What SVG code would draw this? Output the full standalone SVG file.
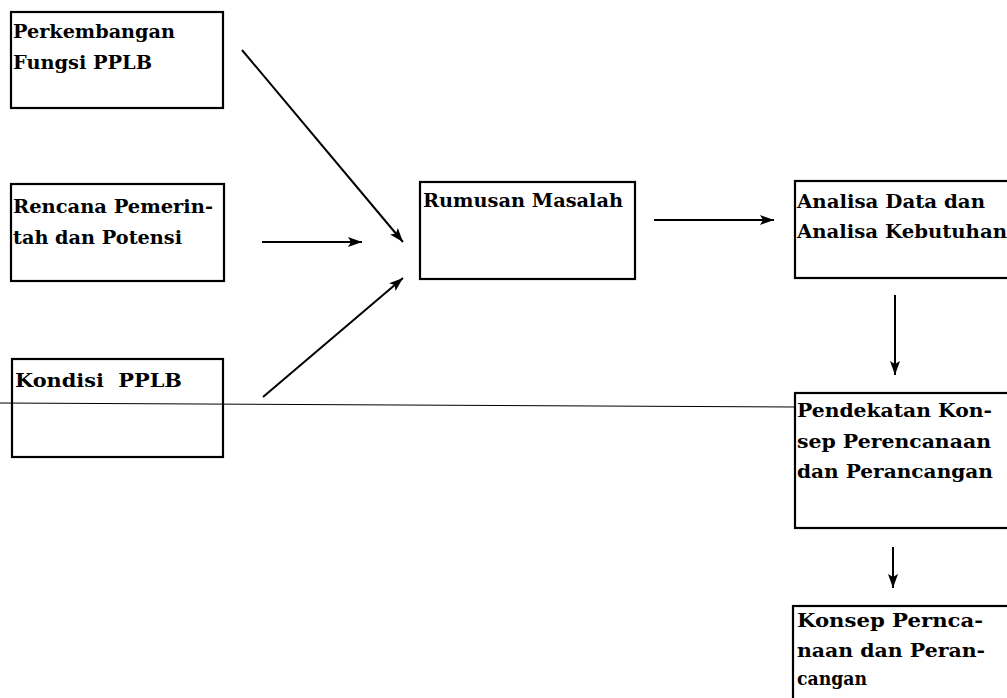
<svg xmlns="http://www.w3.org/2000/svg" width="1007" height="698" viewBox="0 0 1007 698">
<style>
.box{fill:none;stroke:#000;stroke-width:2.2}
.t{font-family:"DejaVu Serif","Liberation Serif",serif;font-size:18px;font-weight:bold;fill:#000}
.c{stroke:#000;stroke-width:2;fill:none}
</style>
<defs>
<marker id="ah" viewBox="0 0 14 10" refX="14" refY="5" markerWidth="14" markerHeight="10" markerUnits="userSpaceOnUse" orient="auto">
<path d="M0,0 L14,5 L0,10 L3,5 Z" fill="#000"/>
</marker>
</defs>
<rect width="1007" height="698" fill="#fff"/>
<g id="rule">
<line x1="0" y1="403" x2="795" y2="407" stroke="#000" stroke-width="1"/>
</g>
<g id="n1">
<rect class="box" x="11" y="12" width="212" height="96"/>
<text class="t" x="13" y="38" textLength="162" lengthAdjust="spacingAndGlyphs">Perkembangan</text>
<text class="t" x="13" y="69" textLength="139" lengthAdjust="spacingAndGlyphs">Fungsi PPLB</text>
</g>
<g id="n2">
<rect class="box" x="11" y="184" width="213" height="97"/>
<text class="t" x="13" y="213" textLength="200" lengthAdjust="spacingAndGlyphs">Rencana Pemerin-</text>
<text class="t" x="13" y="244" textLength="169" lengthAdjust="spacingAndGlyphs">tah dan Potensi</text>
</g>
<g id="n3">
<rect class="box" x="12" y="359" width="211" height="98"/>
<text class="t" x="15" y="387" textLength="167" lengthAdjust="spacingAndGlyphs" xml:space="preserve">Kondisi  PPLB</text>
</g>
<g id="n4">
<rect class="box" x="420" y="182" width="215" height="97"/>
<text class="t" x="423" y="207" textLength="200" lengthAdjust="spacingAndGlyphs">Rumusan Masalah</text>
</g>
<g id="n5">
<rect class="box" x="795" y="181" width="220" height="97"/>
<text class="t" x="797" y="208" textLength="188" lengthAdjust="spacingAndGlyphs">Analisa Data dan</text>
<text class="t" x="797" y="238" textLength="210" lengthAdjust="spacingAndGlyphs">Analisa Kebutuhan</text>
</g>
<g id="n6">
<rect class="box" x="795" y="393" width="220" height="135"/>
<text class="t" x="797" y="417" textLength="195" lengthAdjust="spacingAndGlyphs">Pendekatan Kon-</text>
<text class="t" x="797" y="448" textLength="194" lengthAdjust="spacingAndGlyphs">sep Perencanaan</text>
<text class="t" x="797" y="478" textLength="196" lengthAdjust="spacingAndGlyphs">dan Perancangan</text>
</g>
<g id="n7">
<rect class="box" x="793" y="606" width="222" height="100"/>
<text class="t" x="797" y="627" textLength="186" lengthAdjust="spacingAndGlyphs">Konsep Pernca-</text>
<text class="t" x="797" y="657" textLength="188" lengthAdjust="spacingAndGlyphs">naan dan Peran-</text>
<text class="t" x="797" y="685" textLength="70" lengthAdjust="spacingAndGlyphs">cangan</text>
</g>
<g id="connectors">
<line class="c" x1="242" y1="50" x2="403" y2="242" marker-end="url(#ah)"/>
<line class="c" x1="262" y1="242" x2="362" y2="242" marker-end="url(#ah)"/>
<line class="c" x1="263" y1="397" x2="403" y2="278" marker-end="url(#ah)"/>
<line class="c" x1="654" y1="220" x2="774" y2="220" marker-end="url(#ah)"/>
<line class="c" x1="895" y1="295" x2="895" y2="375" marker-end="url(#ah)"/>
<line class="c" x1="893" y1="547" x2="893" y2="588" marker-end="url(#ah)"/>
</g>
</svg>
